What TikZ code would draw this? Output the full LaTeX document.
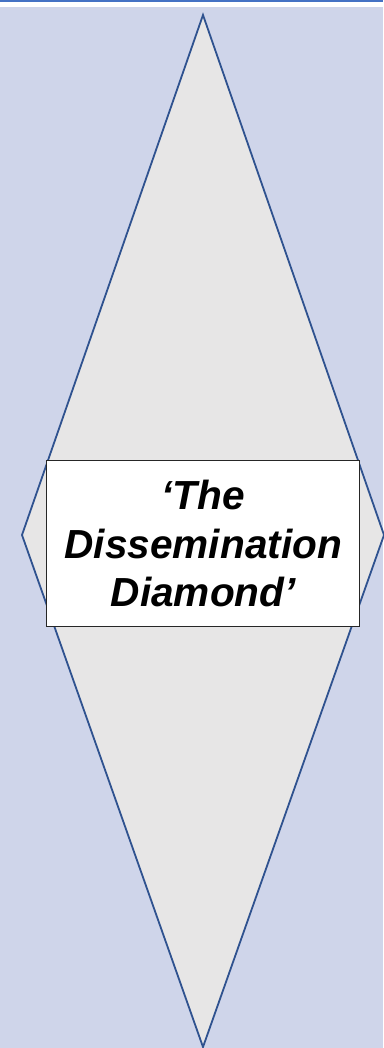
\documentclass[tikz,border=0pt]{standalone}
\usepackage{fontspec}
\setmainfont{Liberation Sans}
\usetikzlibrary{positioning}

\definecolor{bgblue}{HTML}{CFD5EA}
\definecolor{topline}{HTML}{4472C4}
\definecolor{dmdfill}{HTML}{E7E6E6}
\definecolor{dmdline}{HTML}{2F528F}

\begin{document}
\begin{tikzpicture}[
  x=1pt, y=-1pt,
  dmd/.style={draw=dmdline, fill=dmdfill, line width=1.8pt, line join=miter},
  titlebox/.style={draw=black!85, fill=white, line width=1pt,
    minimum width=313pt, minimum height=166pt, inner sep=0pt, align=center,
    font=\fontsize{40.6}{48.5}\selectfont\bfseries\itshape}
]

% ---------- background ----------
\useasboundingbox (0,0) rectangle (383,1048);
\fill[white] (0,0) rectangle (383,1048);
\fill[bgblue] (0,7) rectangle (383,1048);
\fill[topline] (0,0) rectangle (383,2.2);

% ---------- diamond ----------
\coordinate (T) at (203,15);
\coordinate (L) at (22,535);
\coordinate (B) at (203,1047);
\coordinate (R) at (384,535);
\draw[dmd] (T) -- (L) -- (B) -- (R) -- cycle;

% ---------- title ----------
\node[titlebox] (title) at (203.3,543.5) {‘The\\Dissemination\\Diamond’};
\end{tikzpicture}
\end{document}
